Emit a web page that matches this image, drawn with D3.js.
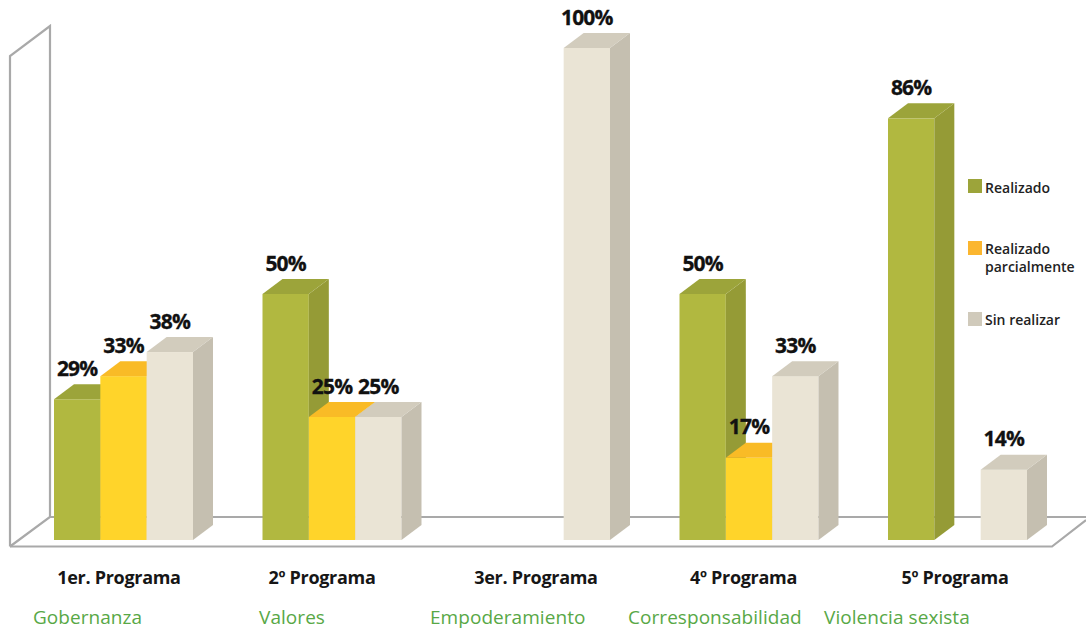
<!doctype html>
<html>

<head>
  <title>Programas</title>
  <script src="https://d3js.org/d3.v7.min.js"></script>
  <style>
    body {
      margin: 0;
      background: #fff;
    }

    svg {
      display: block;
    }

    text {
      font-family: 'Open Sans', sans-serif;
    }

    .value {
      font-size: 21px;
      font-weight: 700;
      fill: #111;
      stroke: #111;
      stroke-width: 0.3px;
      text-anchor: middle;
      letter-spacing: -0.8px;
    }

    .program {
      font-size: 18px;
      font-weight: 700;
      fill: #161616;
      text-anchor: middle;
      letter-spacing: -0.3px;
    }

    .theme {
      font-size: 19px;
      fill: #58a846;
      letter-spacing: 0.05px;
    }

    .legend-label {
      font-size: 14px;
      font-weight: 600;
      fill: #222;
    }
  </style>
</head>

<body>
  <svg width="1086" height="634"></svg>
  <script>
    // data, null = no bar
    const programs = ["1er. Programa", "2º Programa", "3er. Programa", "4º Programa", "5º Programa"];
    const themes = ["Gobernanza", "Valores", "Empoderamiento", "Corresponsabilidad", "Violencia sexista"];
    const seriesNames = ["Realizado", "Realizado parcialmente", "Sin realizar"];
    const realizado = [28.6, 50, null, 50, 85.7];
    const parcial = [33.3, 25, null, 16.7, null];
    const sinRealizar = [38.2, 25, 100, 33.3, 14.3];

    // layout, kept apart from the data
    const baseY = 540, topY = 48;
    const depthX = 20, depthY = -15;
    const programNudge = [-4.5, -10, -4.5, -5.5, -2.5];
    const themeLeft = [33, 259, 430, 628, 824];

    const front = ["#b1b840", "#ffd42a", "#eae4d5"];
    const side = ["#959b36", "#e8b52a", "#c5bfb0"];
    const lid = ["#9ca43a", "#f9bb26", "#d2ccbd"];
    const swatch = ["#9ca43a", "#fbb62f", "#d0cabb"];
    const wall = "#a9a9a9";

    const values = [realizado, parcial, sinRealizar];
    const svg = d3.select("svg");

    const x0 = d3.scaleBand().domain(d3.range(programs.length)).range([54, 1027]).paddingInner(1 / 3).paddingOuter(0);
    const x1 = d3.scaleBand().domain(d3.range(values.length)).range([0, x0.bandwidth()]);
    const y = d3.scaleLinear().domain([0, 100]).range([baseY, topY]);

    // wall and floor outline
    const line = d3.line();
    const outline = [
      [[10, 546.5], [10, 56], [50, 26], [50, 517], [10, 546.5]],
      [[50, 517], [1086, 517]],
      [[10, 546.5], [1052, 546.5], [1086, 520]]
    ];
    svg.append("g").selectAll("path")
      .data(outline)
      .enter()
      .append("path")
      .attr("d", line)
      .attr("fill", "none")
      .attr("stroke", wall)
      .attr("stroke-width", 2.2);

    // bars, left to right so the next bar covers the side of the one before
    const bars = [];
    programs.forEach((p, i) => {
      values.forEach((v, s) => {
        if (v[i] != null) bars.push({ program: i, series: s, value: v[i] });
      });
    });

    const bar = svg.append("g").selectAll("g")
      .data(bars)
      .enter()
      .append("g")
      .attr("transform", d => "translate(" + (x0(d.program) + x1(d.series)) + ",0)");

    const w = x1.bandwidth();

    bar.append("rect")
      .attr("width", w)
      .attr("y", d => y(d.value))
      .attr("height", d => baseY - y(d.value))
      .attr("fill", d => front[d.series]);

    bar.append("path")
      .attr("d", d => line([[w, y(d.value)], [w + depthX, y(d.value) + depthY], [w + depthX, baseY + depthY], [w, baseY]]) + "Z")
      .attr("fill", d => side[d.series]);

    bar.append("path")
      .attr("d", d => line([[0, y(d.value)], [depthX, y(d.value) + depthY], [w + depthX, y(d.value) + depthY], [w, y(d.value)]]) + "Z")
      .attr("fill", d => lid[d.series]);

    // value labels go on top of everything
    svg.append("g").selectAll("text")
      .data(bars)
      .enter()
      .append("text")
      .attr("class", "value")
      .attr("x", d => x0(d.program) + x1(d.series) + w / 2)
      .attr("y", d => y(d.value) - 23.5)
      .text(d => Math.round(d.value) + "%");

    svg.append("g").selectAll("text")
      .data(programs)
      .enter()
      .append("text")
      .attr("class", "program")
      .attr("x", (d, i) => x0(i) + x0.bandwidth() / 2 + programNudge[i])
      .attr("y", 584)
      .text(d => d);

    svg.append("g").selectAll("text")
      .data(themes)
      .enter()
      .append("text")
      .attr("class", "theme")
      .attr("x", (d, i) => themeLeft[i])
      .attr("y", 624)
      .text(d => d);

    // legend
    const legendTop = [179, 241, 312];
    const legend = svg.append("g").selectAll("g")
      .data(seriesNames)
      .enter()
      .append("g")
      .attr("transform", (d, i) => "translate(968," + legendTop[i] + ")");

    legend.append("rect")
      .attr("width", 14)
      .attr("height", 14)
      .attr("fill", (d, i) => swatch[i]);

    legend.append("text")
      .attr("class", "legend-label")
      .attr("x", 17)
      .attr("y", (d, i) => i == 0 ? 14 : 13)
      .text(d => d.split(" ")[0] == "Sin" ? d : d.split(" ")[0]);

    legend.filter(d => d == "Realizado parcialmente")
      .append("text")
      .attr("class", "legend-label")
      .attr("x", 17)
      .attr("y", 31)
      .text("parcialmente");
  </script>
</body>

</html>
